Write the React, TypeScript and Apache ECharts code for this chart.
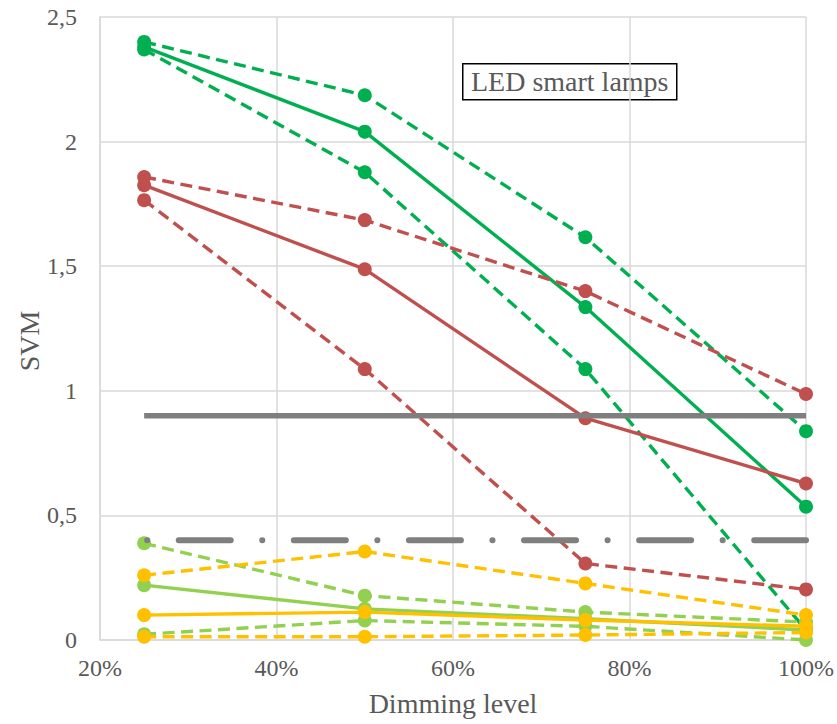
import React, { useEffect, useRef } from "react";
import * as echarts from "echarts";

const dimmingLevels = [25, 50, 75, 100];
const xTicks = [20, 40, 60, 80, 100];

const greenMean = [2.38, 2.04, 1.336, 0.535];
const greenUpper = [2.4, 2.186, 1.616, 0.838];
const greenLower = [2.37, 1.877, 1.087, 0.04];

const redMean = [1.825, 1.488, 0.89, 0.628];
const redUpper = [1.858, 1.685, 1.4, 0.987];
const redLower = [1.765, 1.087, 0.307, 0.203];

const lightGreenMean = [0.22, 0.125, 0.085, 0.04];
const lightGreenUpper = [0.388, 0.178, 0.112, 0.072];
const lightGreenLower = [0.023, 0.078, 0.055, 0.0];

const yellowMean = [0.1, 0.112, 0.08, 0.055];
const yellowUpper = [0.26, 0.355, 0.227, 0.1];
const yellowLower = [0.013, 0.013, 0.02, 0.03];

const limitHigh = 0.9;
const limitLow = 0.4;
const limitRange = [25, 100];

const GREEN = "#00b050";
const RED = "#c0504d";
const LGREEN = "#92d050";
const YELLOW = "#ffc000";
const GRAY = "#7f7f7f";
const TEXT = "#595959";
const FONT = "'Liberation Serif', 'Times New Roman', serif";

function pairs(vals: number[]) {
  return dimmingLevels.map((x, i) => [x, vals[i]]);
}

function dataSeries(name: string, vals: number[], color: string, dashed: boolean) {
  return {
    name,
    type: "line",
    data: pairs(vals),
    symbol: "circle",
    symbolSize: 14,
    itemStyle: { color },
    lineStyle: { color, width: 3.4, type: dashed ? [12, 6.5] : "solid" },
    z: 3,
  };
}

export default function App() {
  const ref = useRef<HTMLDivElement>(null);
  useEffect(() => {
    if (!ref.current) return;
    const chart = echarts.init(ref.current, undefined, { renderer: "svg" });
    chart.setOption({
      animation: false,
      backgroundColor: "#ffffff",
      grid: { left: 100, right: 29, top: 17, bottom: 84 },
      xAxis: {
        type: "value",
        min: xTicks[0],
        max: xTicks[xTicks.length - 1],
        interval: 20,
        name: "Dimming level",
        nameLocation: "middle",
        nameGap: 49,
        nameTextStyle: { fontFamily: FONT, fontSize: 28, color: TEXT },
        axisLine: { show: true, lineStyle: { color: "#d9d9d9", width: 1.5 } },
        axisTick: { show: false },
        axisLabel: {
          formatter: (v: number) => `${v}%`,
          fontFamily: FONT,
          fontSize: 24,
          color: TEXT,
          margin: 16,
        },
        splitLine: { show: true, lineStyle: { color: "#d9d9d9", width: 1.5 } },
      },
      yAxis: {
        type: "value",
        min: 0,
        max: 2.5,
        interval: 0.5,
        axisLine: { show: true, lineStyle: { color: "#d9d9d9", width: 1.5 } },
        axisTick: { show: false },
        axisLabel: {
          formatter: (v: number) => String(v).replace(".", ","),
          fontFamily: FONT,
          fontSize: 24,
          color: TEXT,
          margin: 23,
        },
        splitLine: { show: true, lineStyle: { color: "#d9d9d9", width: 1.5 } },
      },
      series: [
        dataSeries("Green mean", greenMean, GREEN, false),
        dataSeries("Green upper", greenUpper, GREEN, true),
        dataSeries("Green lower", greenLower, GREEN, true),
        dataSeries("Red mean", redMean, RED, false),
        dataSeries("Red upper", redUpper, RED, true),
        dataSeries("Red lower", redLower, RED, true),
        dataSeries("Light green mean", lightGreenMean, LGREEN, false),
        dataSeries("Light green upper", lightGreenUpper, LGREEN, true),
        dataSeries("Light green lower", lightGreenLower, LGREEN, true),
        dataSeries("Yellow mean", yellowMean, YELLOW, false),
        dataSeries("Yellow upper", yellowUpper, YELLOW, true),
        dataSeries("Yellow lower", yellowLower, YELLOW, true),
        {
          name: "Limit high",
          type: "line",
          data: limitRange.map((x) => [x, limitHigh]),
          symbol: "none",
          lineStyle: { color: GRAY, width: 5.5, type: "solid" },
          z: 4,
        },
        {
          name: "Limit low",
          type: "line",
          data: limitRange.map((x) => [x, limitLow]),
          symbol: "none",
          lineStyle: {
            color: GRAY,
            width: 6,
            type: [0.1, 31.5, 52, 31.5],
            cap: "round",
            dashOffset: -3,
          },
          z: 4,
        },
      ],
      graphic: [
        {
          type: "text",
          x: 29,
          y: 341,
          rotation: Math.PI / 2,
          style: {
            text: "SVM",
            font: `28px ${FONT}`,
            fill: TEXT,
            align: "center",
            verticalAlign: "middle",
          },
        },
        {
          type: "group",
          left: 462,
          top: 63,
          children: [
            {
              type: "rect",
              shape: { x: 0, y: 0, width: 214, height: 36 },
              style: { fill: "#ffffff", stroke: "#000000", lineWidth: 1.5 },
            },
            {
              type: "text",
              x: 107,
              y: 18,
              style: {
                text: "LED smart lamps",
                font: `28px ${FONT}`,
                fill: TEXT,
                align: "center",
                verticalAlign: "middle",
              },
            },
          ],
        },
      ],
    });
    return () => chart.dispose();
  }, []);
  return (
    <div
      ref={ref}
      style={{ position: "fixed", left: 0, top: 0, width: 837, height: 724 }}
    />
  );
}
